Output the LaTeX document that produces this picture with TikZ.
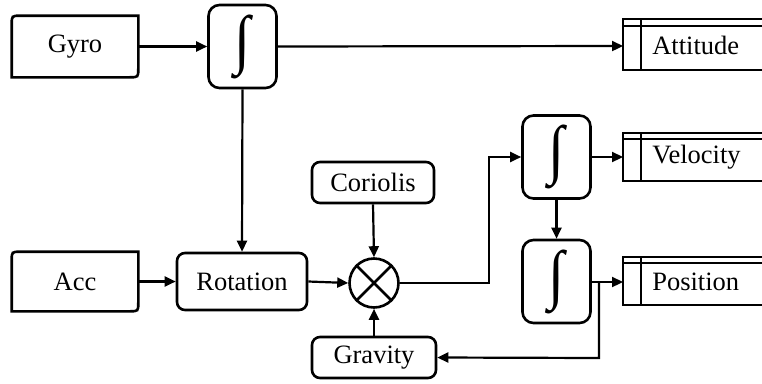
\documentclass[tikz,border=0pt]{standalone}
\usepackage{fontspec}
\setmainfont{Liberation Serif}
\usetikzlibrary{arrows.meta,calc}
\newcommand{\intglyph}{\resizebox*{16pt}{64pt}{\char"222B}}
\begin{document}
\begin{tikzpicture}[x=1pt,y=-1pt,
  line width=2.6pt,
  every node/.style={font=\fontsize{26.5}{30}\selectfont, inner sep=0pt},
  arr/.style={-{Triangle[length=11pt,width=10pt]}, line width=2.2pt},
  rbox/.style={draw, rounded corners=8pt},
  intbox/.style={draw, rounded corners=11pt, minimum width=68pt, minimum height=83pt},
  intsign/.style={}
]
\useasboundingbox (0,0) rectangle (762,383);

% card boxes
\node[minimum width=124pt, minimum height=59pt] (gyro) at (75,46.5) {Gyro};
\draw (gyro.south west) -- ($(gyro.north west)+(0,9)$) .. controls (gyro.north west) .. ($(gyro.north west)+(9,0)$)
  -- (gyro.north east) -- ($(gyro.south east)+(0,-9)$) .. controls (gyro.south east) .. ($(gyro.south east)+(-9,0)$) -- cycle;
\node[minimum width=124pt, minimum height=57pt] (acc) at (75,281.5) {Acc};
\draw (acc.south west) -- ($(acc.north west)+(0,9)$) .. controls (acc.north west) .. ($(acc.north west)+(9,0)$)
  -- (acc.north east) -- ($(acc.south east)+(0,-9)$) .. controls (acc.south east) .. ($(acc.south east)+(-9,0)$) -- cycle;

% integrators
\node[intbox] (int1) at (242.5,46.5) {};
\node[intsign] at (int1) {\intglyph};
\node[intbox] (int2) at (556.5,157) {};
\node[intsign] at (int2) {\intglyph};
\node[intbox] (int3) at (556.5,281.5) {};
\node[intsign] at (int3) {\intglyph};

% rounded boxes
\node[rbox, minimum width=130pt, minimum height=57pt] (rot) at (242,281.5) {Rotation};
\node[rbox, minimum width=122pt, minimum height=41pt] (cor) at (373,182.5) {Coriolis};
\node[rbox, minimum width=124pt, minimum height=41pt] (grav) at (374,357.5) {Gravity};

% multiplier
\node[draw, circle, minimum size=49pt] (mul) at (374,283) {};
\draw (mul.north west) -- (mul.south east);
\draw (mul.north east) -- (mul.south west);

% data stores
\node[anchor=west] (att) at (651,45) {Attitude};
\draw (775,19) -- (623,19) -- (623,70) -- (775,70);
\draw (623,26) -- (775,26);
\draw (641,19) -- (641,70);
\coordinate (attin) at (623,46);

\node[anchor=west] (vel) at (651,157) {Velocity};
\draw (775,133) -- (623,133) -- (623,181) -- (775,181);
\draw (623,139) -- (775,139);
\draw (641,133) -- (641,181);
\coordinate (velin) at (623,157);

\node[anchor=west] (pos) at (651,282) {Position};
\draw (775,257) -- (623,257) -- (623,305) -- (775,305);
\draw (623,263) -- (775,263);
\draw (641,257) -- (641,305);
\coordinate (posin) at (623,282);

% connectors
\draw[arr] (gyro.east) -- (int1.west);
\draw[arr] (int1.east) -- (attin);
\draw[arr] (int1.south) -- (rot.north);
\draw[arr] (acc.east) -- (rot.west);
\draw[arr] (rot.east) -- (mul.west);
\draw[arr] (cor.south) -- (mul.north);
\draw[arr] (grav.north) -- (mul.south);
\coordinate (up) at (489,283);
\draw[arr] (mul.east) -- (up) |- (int2.west);
\draw[arr] (int2.east) -- (velin);
\draw[arr] (int2.south) -- (int3.north);
\draw[arr] (int3.east |- posin) -- (posin);
\coordinate (br) at (599,282);
\draw[arr] (br) -- (599,358) -- (grav.east);
\end{tikzpicture}
\end{document}
